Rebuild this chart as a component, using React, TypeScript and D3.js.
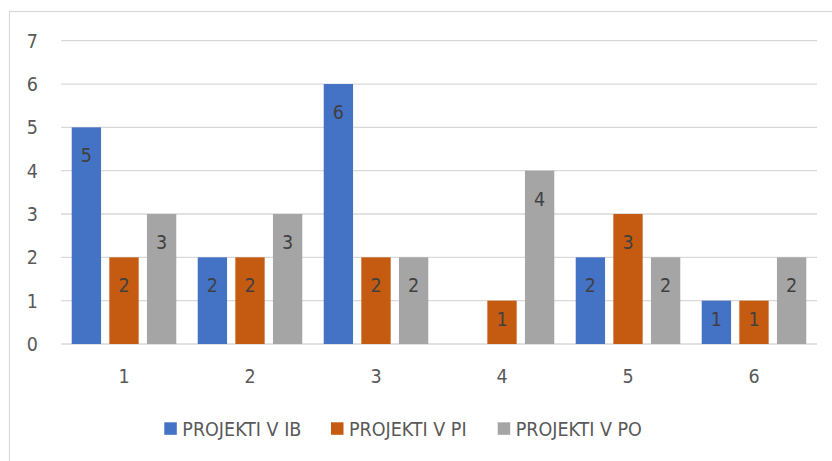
import React from "react"
import * as d3 from "d3"

const categories = ["1", "2", "3", "4", "5", "6"]
const seriesNames = ["PROJEKTI V IB", "PROJEKTI V PI", "PROJEKTI V PO"]
const ibValues = [5, 2, 6, null, 2, 1]
const piValues = [2, 2, 2, 1, 3, 1]
const poValues = [3, 3, 2, 4, 2, 2]
const yTicks = [0, 1, 2, 3, 4, 5, 6, 7]
const colors = ["#4472C4", "#C55A11", "#A5A5A5"]

const width = 832
const height = 461
const margin = { top: 40.7, right: 15, bottom: 117, left: 61 }
const font = "'DejaVu Sans Condensed', 'Liberation Sans', sans-serif"

export default function App() {
  const series = [ibValues, piValues, poValues]

  const x0 = d3.scaleBand()
    .domain(categories)
    .range([margin.left, width - margin.right])
    .paddingInner(0)
    .paddingOuter(0)

  const x1 = d3.scaleBand()
    .domain(seriesNames)
    .range([0, x0.bandwidth()])
    .paddingInner(0.22)
    .paddingOuter(0.285)

  const y = d3.scaleLinear()
    .domain([0, 7])
    .range([height - margin.bottom, margin.top])

  // Excel "inside end" label: near the top, centred when the bar is short
  const labelY = (v) => {
    const top = y(v)
    const h = y(0) - top
    return h < 60 ? top + h / 2 - 3 : top + 28
  }

  const legendX = d3.scaleLinear().domain([0, 1]).range([164.3, 331])

  return (
    <svg width={width} height={height} style={{ position: "absolute", left: 0, top: 0 }} fontFamily={font}>
      <rect x={0} y={0} width={width} height={height} fill="#fff" />
      <rect x={9.5} y={11.5} width={830} height={460} fill="none" stroke="#D9D9D9" strokeWidth={1.2} />

      {/* gridlines */}
      <g>
        {yTicks.map(t => (
          <line key={t} x1={margin.left} x2={width - margin.right} y1={y(t)} y2={y(t)}
            stroke="#D9D9D9" strokeWidth={1.3} />
        ))}
      </g>

      {/* y axis labels */}
      <g fill="#595959" fontSize={19.5} textAnchor="end">
        {yTicks.map(t => (
          <text key={t} x={38} y={y(t)} dy="0.36em">{t}</text>
        ))}
      </g>

      {/* bars */}
      {series.map((vals, si) => (
        <g key={si} fill={colors[si]}>
          {vals.map((v, ci) => v == null ? null : (
            <rect key={ci}
              x={x0(categories[ci]) + x1(seriesNames[si])}
              y={y(v)}
              width={x1.bandwidth()}
              height={y(0) - y(v)} />
          ))}
        </g>
      ))}

      {/* data labels */}
      {series.map((vals, si) => (
        <g key={si} fill="#404040" fontSize={19.5} textAnchor="middle">
          {vals.map((v, ci) => v == null ? null : (
            <text key={ci}
              x={x0(categories[ci]) + x1(seriesNames[si]) + x1.bandwidth() / 2}
              y={labelY(v)}
              dy="0.36em">{v}</text>
          ))}
        </g>
      ))}

      {/* x axis labels */}
      <g fill="#595959" fontSize={19.5} textAnchor="middle">
        {categories.map(c => (
          <text key={c} x={x0(c) + x0.bandwidth() / 2} y={376} dy="0.36em">{c}</text>
        ))}
      </g>

      {/* legend */}
      <g>
        {seriesNames.map((s, i) => (
          <g key={s} transform={`translate(${legendX(i)},0)`}>
            <rect x={0} y={422.3} width={12.5} height={12.5} fill={colors[i]} />
            <text x={18} y={428.5} dy="0.36em" fontSize={19.5} fill="#595959">{s}</text>
          </g>
        ))}
      </g>
    </svg>
  )
}
